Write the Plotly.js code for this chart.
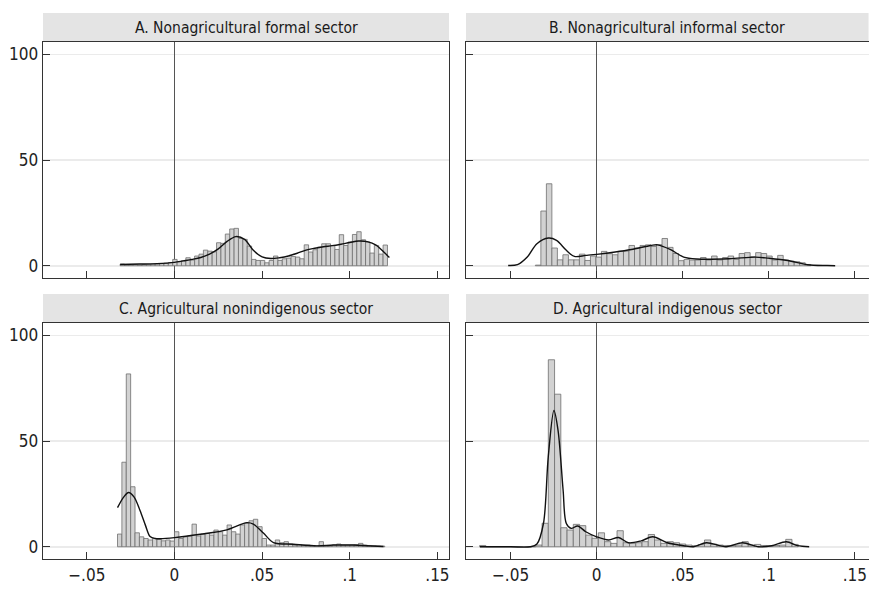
<!DOCTYPE html>
<html>
<head>
<meta charset="utf-8">
<script src="https://cdn.plot.ly/plotly-3.0.1.min.js"></script>
<style>html,body{margin:0;padding:0;background:#fff;}#chart{width:869px;height:591px;}</style>
</head>
<body>
<div id="chart"></div>
<script>
// ---------- Data ----------
const panelTitles = [
  "A. Nonagricultural formal sector",
  "B. Nonagricultural informal sector",
  "C. Agricultural nonindigenous sector",
  "D. Agricultural indigenous sector"
];
const xTickVals = [-0.05, 0, 0.05, 0.1, 0.15];
const xTickText = ["\u2212.05", "0", ".05", ".1", ".15"];
const yTickVals = [0, 50, 100];
const yTickText = ["0", "50", "100"];

// Histogram A (bin start, bin width, densities)
const binStartA = -0.031, binWidthA = 0.0025;
const densA = [0.8,0.3,0.3,0.5,0.3,0.5,0.5,0.8,0.8,1.0,1.2,1.5,
  3.0,1.9,2.4,3.8,2.7,4.6,5.5,7.4,6.9,6.6,10.9,10.6,15.0,17.4,17.7,12.9,12.5,9.3,
  3.0,
  2.5,2.5,1.4,2.5,4.6,2.5,3.3,3.6,4.4,4.1,3.3,9.9,6.5,7.6,8.8,10.4,10.4,9.6,7.7,14.7,
  9.6,11.2,14.8,16.1,12.3,11.2,6.0,9.6,5.5,9.8];
const kdeAx = [-0.031,-0.02,-0.01,0,0.005,0.01,0.015,0.02,0.025,0.03,0.035,0.04,0.045,0.05,0.055,0.06,0.065,0.07,0.075,0.08,0.085,0.09,0.095,0.1,0.105,0.11,0.115,0.12,0.1226];
const kdeAy = [0.6,0.8,1.0,1.6,2.3,3.0,3.9,5.5,8.0,11.5,13.8,12.5,7.3,4.2,3.4,3.8,4.6,5.9,7.4,8.3,9.0,9.5,10.2,11.0,11.7,11.4,9.8,6.0,3.9];

// Histogram B
const binStartB = -0.0356, binWidthB = 0.0032;
const densB = [0.3,25.9,38.8,8.4,2.8,5.2,2.8,2.8,5.5,2.5,4.6,4.1,6.8,5.7,5.2,6.8,6.9,9.6,8.4,9.6,
  9.9,9.1,10.0,12.9,8.7,5.8,2.4,3.0,2.7,2.7,3.9,2.7,4.6,2.7,3.9,4.6,3.0,5.8,6.2,4.3,
  6.2,5.8,4.6,2.7,4.9,2.7,2.2,1.9,1.4,0.6];
const kdeBx = [-0.0514,-0.046,-0.0403,-0.0347,-0.028,-0.0233,-0.0176,-0.0129,-0.0063,0,0.0108,0.0202,0.0316,0.0354,0.043,0.0506,0.0581,0.077,0.0922,0.0998,0.111,0.1225,0.134,0.1386];
const kdeBy = [0.1,0.5,4.1,10.4,13.1,12.0,7.3,4.4,4.9,5.4,6.5,7.7,9.6,9.9,7.6,4.1,3.2,3.3,4.1,3.6,2.5,0.5,0.1,0];

// Histogram C
const binStartC = -0.0325, binWidthC = 0.0025;
const densC = [6.0,40,81.8,28.4,6.6,4.7,3.9,3.2,3.9,3.5,2.8,3.2,2.7,7.1,
  3.9,4.7,5.1,10.7,5.1,6.0,6.3,5.5,7.9,7.1,5.5,10.3,7.1,6.0,10.3,11.1,12.3,13.0,9.5,3.9,0.8,0.8,3.2,1.9,2.4,1.3,0.8,
  1.0,0.8,0.8,0.6,0.5,2.4,0.5,0.3,0.8,1.3,0.8,0.8,0.8,1.0,1.6,0.8,0.6,0.5,0.4,0.3];
const kdeCx = [-0.0325,-0.029,-0.0262,-0.023,-0.0196,-0.0165,-0.0139,-0.011,-0.0082,0,0.0147,0.0299,0.0413,0.045,0.0507,0.0565,0.0678,0.0812,0.0906,0.102,0.1097,0.1192];
const kdeCy = [18.5,23.5,25.7,23.5,17,10,4.8,3.9,3.8,4.3,5.9,8.0,11.4,10.7,6.5,2.0,1.2,0.4,0.8,0.8,0.5,0.1];

// Histogram D
const binStartD = -0.068, binWidthD = 0.00363;
const densD = [0.6,0,0,0,0,0,0,0,0,0.8,11.1,88.5,72.2,9.0,7.9,10.6,10.0,5.5,4.0,6.6,
  2.4,1.6,7.6,1.9,1.6,1.9,2.4,5.8,3.2,1.6,2.4,1.9,1.3,0.8,0.5,1.0,3.2,1.2,0.8,0.6,
  0.6,0.8,2.4,0.8,1.1,0.6,0.5,0.6,0.8,3.5,1.1];
const kdeDx = [-0.0678,-0.05,-0.0385,-0.0347,-0.0309,-0.0281,-0.0248,-0.0224,-0.0195,-0.0176,-0.0148,-0.011,-0.0063,0,0.007,0.0127,0.0184,0.0259,0.0326,0.041,0.0506,0.0563,0.0638,0.0752,0.0847,0.0941,0.1017,0.1102,0.1168,0.1235];
const kdeDy = [0,0,0,1.3,11,42.6,64.5,55,27,11,8.7,9.8,7.1,4.7,3.2,4.4,1.9,2.8,4.7,1.9,0.5,0,1.9,0,1.9,0,0.5,2.4,0.5,0];

// ---------- Styling / layout ----------
const FONT = "'Liberation Sans Narrow', 'DejaVu Sans Condensed', 'Arial Narrow', sans-serif";
const W = 869, H = 591;
const px = v => v / W;
const py = v => 1 - v / H;

const xDomL = [px(43), px(449)];
const xDomR = [px(466), 0.9995];
const yDomT = [py(278), py(42)];
const yDomB = [py(559), py(323)];
const headerT = [py(42), py(13)];
const headerB = [py(323), py(294)];

const xRangeL = [-0.075, 0.1566];
const xRangeR = [-0.0759, 0.158];
const yRange = [-5.8, 105.9];

function histTrace(start, width, dens, xa, ya) {
  const xs = dens.map((_, i) => start + (i + 0.5) * width);
  return {
    type: 'bar', x: xs, y: dens, width: width, xaxis: xa, yaxis: ya,
    marker: {color: '#d2d2d2', line: {color: '#6f6f6f', width: 0.8}},
    hoverinfo: 'skip'
  };
}
function kdeTrace(xs, ys, xa, ya) {
  return {
    type: 'scatter', mode: 'lines', x: xs, y: ys, xaxis: xa, yaxis: ya,
    line: {color: '#111', width: 1.4, shape: 'spline', smoothing: 0.9},
    hoverinfo: 'skip'
  };
}

const data = [
  histTrace(binStartA, binWidthA, densA, 'x', 'y'),
  kdeTrace(kdeAx, kdeAy, 'x', 'y'),
  histTrace(binStartB, binWidthB, densB, 'x2', 'y2'),
  kdeTrace(kdeBx, kdeBy, 'x2', 'y2'),
  histTrace(binStartC, binWidthC, densC, 'x3', 'y3'),
  kdeTrace(kdeCx, kdeCy, 'x3', 'y3'),
  histTrace(binStartD, binWidthD, densD, 'x4', 'y4'),
  kdeTrace(kdeDx, kdeDy, 'x4', 'y4')
];

function xAxis(domain, range, anchor, labels) {
  return {
    domain: domain, range: range, anchor: anchor,
    tickmode: 'array', tickvals: xTickVals, ticktext: xTickText,
    showticklabels: labels, ticks: 'inside', ticklen: 7, tickwidth: 1, tickcolor: '#333',
    ticklabeloverflow: 'allow',
    showgrid: false, zeroline: true, zerolinecolor: '#555', zerolinewidth: 1,
    showline: true, mirror: true, linecolor: '#333', linewidth: 1.3,
    tickfont: {family: FONT, size: 17, color: '#222'}, fixedrange: true
  };
}
function yAxis(domain, anchor, labels) {
  return {
    domain: domain, range: yRange, anchor: anchor,
    tickmode: 'array', tickvals: yTickVals, ticktext: yTickText,
    showticklabels: labels, ticks: 'inside', ticklen: 7, tickwidth: 1, tickcolor: '#333',
    showgrid: true, gridcolor: '#ebebeb', gridwidth: 1.5, zeroline: false,
    showline: true, mirror: true, linecolor: '#333', linewidth: 1.3,
    tickfont: {family: FONT, size: 17, color: '#222'}, fixedrange: true
  };
}

const headers = [
  {x: xDomL, y: headerT}, {x: xDomR, y: headerT},
  {x: xDomL, y: headerB}, {x: xDomR, y: headerB}
];
const shapes = headers.map(h => ({
  type: 'rect', xref: 'paper', yref: 'paper',
  x0: h.x[0], x1: h.x[1], y0: h.y[0], y1: h.y[1],
  fillcolor: '#e4e4e4', line: {width: 0}, layer: 'below'
}));
const annotations = headers.map((h, i) => ({
  xref: 'paper', yref: 'paper', x: (h.x[0] + h.x[1]) / 2, y: (h.y[0] + h.y[1]) / 2,
  xanchor: 'center', yanchor: 'middle', showarrow: false,
  text: panelTitles[i], font: {family: FONT, size: 15.5, color: '#1a1a1a'}
}));

const layout = {
  width: W, height: H, margin: {l: 0, r: 0, t: 0, b: 0},
  paper_bgcolor: '#fff', plot_bgcolor: '#fff', showlegend: false,
  barmode: 'overlay',
  xaxis: xAxis(xDomL, xRangeL, 'y', false),
  yaxis: yAxis(yDomT, 'x', true),
  xaxis2: xAxis(xDomR, xRangeR, 'y2', false),
  yaxis2: yAxis(yDomT, 'x2', false),
  xaxis3: xAxis(xDomL, xRangeL, 'y3', true),
  yaxis3: yAxis(yDomB, 'x3', true),
  xaxis4: xAxis(xDomR, xRangeR, 'y4', true),
  yaxis4: yAxis(yDomB, 'x4', false),
  shapes: shapes, annotations: annotations
};

Plotly.newPlot('chart', data, layout, {displayModeBar: false, staticPlot: true});
</script>
</body>
</html>
